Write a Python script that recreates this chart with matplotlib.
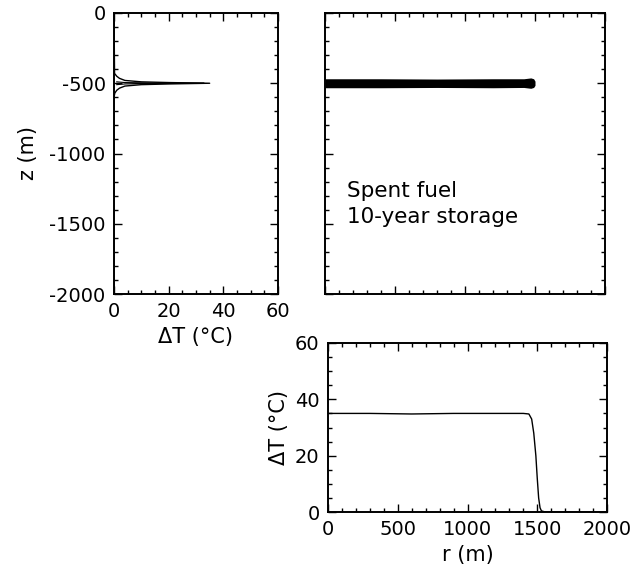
import numpy as np
import matplotlib.pyplot as plt
from matplotlib.ticker import MultipleLocator

# vertical profile of temperature rise through the repository plane
z_profile = [-2000, -600, -570, -550, -535, -520, -510, -505, -500,
             -495, -490, -480, -465, -450, -430, 0]
dT_profile = [0, 0, 0.3, 1, 2, 4, 10, 20, 35, 20, 10, 4, 2, 1, 0.2, 0]
# second profile (drawn inside the first one)
z_inner = [-510, -505, -502, -500, -498, -495, -490]
dT_inner = [1, 4, 15, 33, 15, 4, 1]

# heated slab in the r-z section
r_band = [0, 400, 800, 1200, 1420, 1470, 1490, 1500]
z_band_top = [-468, -468, -470, -468, -468, -462, -468, -485]
z_band_bot = [-532, -532, -530, -532, -530, -536, -530, -515]

# radial profile at repository depth
r_radial = [0, 300, 600, 900, 1200, 1400, 1440, 1460, 1475, 1490, 1500,
            1510, 1520, 1530, 1550, 1600, 2000]
dT_radial = [35, 35, 34.8, 35, 35, 35, 34.8, 33, 28, 20, 12, 5, 1.5, 0.4,
             0.1, 0, 0]

W, H = 633, 575
fig = plt.figure(figsize=(W / 100, H / 100), dpi=100)
plt.rcParams['font.family'] = 'DejaVu Sans'
fs_tick = 14
fs_lab = 15


def box(x0, y0, x1, y1):
    return [x0 / W, 1 - y1 / H, (x1 - x0) / W, (y1 - y0) / H]


def style(ax):
    for s in ax.spines.values():
        s.set_linewidth(1.4)
    ax.tick_params(which='both', direction='in', top=True, right=True,
                   labelsize=fs_tick, width=1.0, pad=6)
    ax.tick_params(which='major', length=6)
    ax.tick_params(which='minor', length=3)


# left: temperature vs depth
ax1 = fig.add_axes(box(114, 13, 278, 294))
ax1.plot(dT_profile, z_profile, color='black', lw=1.0)
ax1.plot(dT_inner, z_inner, color='black', lw=0.8)
ax1.set_xlim(0, 60)
ax1.set_ylim(-2000, 0)
ax1.xaxis.set_major_locator(MultipleLocator(20))
ax1.xaxis.set_minor_locator(MultipleLocator(5))
ax1.yaxis.set_major_locator(MultipleLocator(500))
ax1.yaxis.set_minor_locator(MultipleLocator(100))
style(ax1)
ax1.set_yticks([0, -500, -1000, -1500, -2000])
ax1.set_yticklabels(['0', '-500', '-1000', '-1500', '-2000'])
ax1.set_xlabel('ΔT (°C)', fontsize=fs_lab, labelpad=4)
ax1.set_ylabel('z (m)', fontsize=fs_lab, labelpad=8)

# top right: heated region in r-z
ax2 = fig.add_axes(box(325, 13, 605, 294))
ax2.fill_between(r_band, z_band_bot, z_band_top, color='black', lw=0)
ax2.set_xlim(0, 2000)
ax2.set_ylim(-2000, 0)
ax2.xaxis.set_major_locator(MultipleLocator(500))
ax2.xaxis.set_minor_locator(MultipleLocator(100))
ax2.yaxis.set_major_locator(MultipleLocator(500))
ax2.yaxis.set_minor_locator(MultipleLocator(100))
style(ax2)
ax2.tick_params(labelbottom=False, labelleft=False)
ax2.text(0.08, 0.32, 'Spent fuel\n10-year storage', transform=ax2.transAxes,
         fontsize=15.5, ha='left', va='center', linespacing=1.4)

# bottom right: temperature vs radius
ax3 = fig.add_axes(box(328, 343, 607, 512))
ax3.plot(r_radial, dT_radial, color='black', lw=1.0)
ax3.set_xlim(0, 2000)
ax3.set_ylim(0, 60)
ax3.xaxis.set_major_locator(MultipleLocator(500))
ax3.xaxis.set_minor_locator(MultipleLocator(100))
ax3.yaxis.set_major_locator(MultipleLocator(20))
ax3.yaxis.set_minor_locator(MultipleLocator(5))
style(ax3)
ax3.set_xlabel('r (m)', fontsize=fs_lab, labelpad=4)
ax3.set_ylabel('ΔT (°C)', fontsize=fs_lab, labelpad=4)

fig.savefig('out.png', dpi=100)
